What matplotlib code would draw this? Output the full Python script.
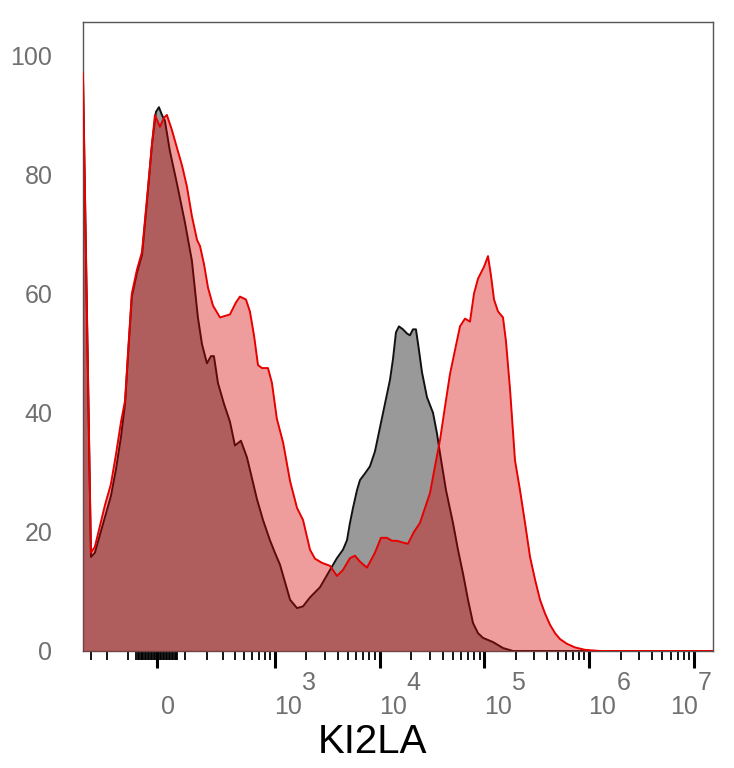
import numpy as np
import matplotlib.pyplot as plt

plt.rcParams['font.family'] = ['Liberation Sans', 'DejaVu Sans']

# histogram overlay, % of max, x in fluorescence units (biexponential display)
red_x = [-366, -302, -274, -241, -211, -179, -154, -131, -114, -102, -87, -68, -50, -33, -16.5,
         -6.6, 9.9, 23, 33, 50, 68, 87, 106, 127, 150, 164, 184, 206, 235, 281, 358, 412, 453,
         520, 569, 624, 683, 747, 854, 933, 1040, 1195, 1395, 1627, 1856, 2165, 2415, 2817,
         3360, 3919, 4470, 5213, 5820, 6500, 7575, 9030, 10300, 11760, 13130, 14650, 16720,
         18650, 21280, 24290, 27100, 30260, 33770, 37700, 42080, 46980, 52420, 58520, 65320,
         72900, 79600, 86900, 99200, 108300, 115700, 123600, 135000, 150500, 160700, 175600,
         196000, 218800, 244300, 272700, 304300, 339700, 379100, 423200, 472400, 527300,
         615000, 733000, 913000, 1270000, 15200000]
red_y = [97, 16.5, 17.5, 21, 24.5, 28, 33, 38.5, 42, 50, 60, 64, 67, 76, 85,
         90, 88, 89.5, 90, 87.5, 84.5, 81.5, 78, 73, 69, 68, 65, 61, 58, 56, 56.5, 58.5, 59.5,
         59, 57, 53, 48, 47.5, 47.5, 45, 39, 35, 28.5, 24, 22, 17, 15.5, 14.8,
         14.3, 12.6, 13.6, 15.6, 16, 15, 14, 16.5, 19, 19, 18.5, 18.5, 18.2,
         18, 20, 21.5, 24, 26.5, 31, 35.4, 41, 46.5, 50.5, 54.5, 55.8,
         55.3, 60, 62.5, 64.5, 66.3, 63, 59, 57, 56, 52, 44,
         32, 27, 21.5, 15.8, 12, 8.6, 6.3, 4.4, 3, 2,
         1.2, 0.6, 0.2, 0, 0]

gray_x = [-366, -302, -274, -241, -211, -179, -154, -131, -114, -102, -87, -68, -50, -33, -16.5,
          -3.3, 6.6, 16.5, 26.5, 43, 68, 98, 127, 154, 174, 200, 223, 241, 267, 310, 358, 403,
          463, 532, 596, 667, 764, 892, 997, 1115, 1250, 1395, 1627, 1856, 2165, 2696, 3360,
          3919, 4470, 4885, 5213, 5570, 6085, 6500, 7245, 8090, 9030, 10080, 11250, 12560,
          13420, 14330, 15310, 16720, 18260, 19500, 20810, 22230, 23760, 25380, 28330, 32340,
          35310, 37700, 43020, 50160, 56000, 62510, 69780, 77880, 86900, 97000, 120900,
          150500, 187600, 1270000, 15200000]
gray_y = [96, 15.8, 16.5, 19.5, 22.5, 26, 30.5, 36, 41.5, 49.5, 59.5, 63.5, 66.5, 75.5, 85,
          90.5, 91.3, 90, 89, 84, 78.5, 72, 65.5, 56, 51.5, 48.3, 49.5, 49.5, 45, 41.5, 38.5, 34.5,
          35.3, 32.5, 29, 25.5, 22, 18.6, 16.5, 14.5, 11.5, 8.6, 7.2, 7.5, 9, 10.7, 13.6,
          15.6, 17, 18.6, 21.5, 24, 27, 28.7, 29.8, 31, 33.5, 37.5, 41.5, 45.5,
          49, 53.5, 54.5, 54, 53.3, 53, 54, 54, 50.5, 46.8, 42.6, 40,
          36.5, 33.2, 27, 21.5, 17, 13, 8.6, 4.7, 3, 2.2, 1.5,
          0.5, 0, 0, 0]

major_ticks = [0, 1e3, 1e4, 1e5, 1e6, 1e7]
exponents = ['', '3', '4', '5', '6', '7']
y_ticks = [0, 20, 40, 60, 80, 100]

# minor ticks: linear part near zero, then log decades
minor_ticks = [-300, -200, -100] + [v for v in range(-70, 75, 5) if v != 0]
minor_ticks += list(range(100, 1000, 100))
for d in range(3, 7):
    minor_ticks += [k * 10 ** d for k in range(2, 10)]

W = 150.0
def fwd(x):
    return np.arcsinh(np.asarray(x, dtype=float) / W)
def inv(y):
    return W * np.sinh(np.asarray(y, dtype=float))

fig = plt.figure(figsize=(7.34, 7.68), dpi=100)
ax = fig.add_axes([83 / 734, 117 / 768, 630 / 734, 629 / 768])
ax.set_xscale('function', functions=(fwd, inv))

ax.fill_between(gray_x, 0, gray_y, color='#999999', lw=0, zorder=1)
ax.plot(gray_x, gray_y, color='#111111', lw=1.4, zorder=2)
ax.fill_between(red_x, 0, red_y, color='#d60000', alpha=0.39, lw=0, zorder=3)
ax.plot(red_x, red_y, color='#e60000', lw=1.4, zorder=4)

ax.set_xlim(-366, 1.52e7)
ax.set_ylim(0, 105.6)

ax.set_xticks(major_ticks)
ax.set_xticks(minor_ticks, minor=True)
ax.tick_params(axis='x', which='major', length=12, width=2.2, color='black',
               direction='out', labelbottom=False)
ax.tick_params(axis='x', which='minor', length=6.5, width=1.3, color='black', direction='out')

ax.set_yticks(y_ticks)
ax.tick_params(axis='y', length=0, pad=22, labelsize=18, labelcolor='#707070')

for sp in ax.spines.values():
    sp.set_color('#555555')
    sp.set_linewidth(1)

lab_color = '#707070'
for t, e in zip(major_ticks, exponents):
    if e == '':
        ax.annotate('0', xy=(t, 0), xycoords=('data', 'axes fraction'), xytext=(8, -40.5),
                    textcoords='offset points', ha='center', va='center',
                    fontsize=18, color=lab_color)
        continue
    # last label is pulled left so it stays inside the figure
    shift = -16.5 if t == major_ticks[-1] else 0
    ax.annotate('10', xy=(t, 0), xycoords=('data', 'axes fraction'), xytext=(9.5 + shift, -40.5),
                textcoords='offset points', ha='center', va='center',
                fontsize=18, color=lab_color)
    ax.annotate(e, xy=(t, 0), xycoords=('data', 'axes fraction'), xytext=(24.5 + shift, -23),
                textcoords='offset points', ha='center', va='center',
                fontsize=18, color=lab_color)

ax.set_xlabel('KI2LA', fontsize=29, color='black', va='center')
ax.xaxis.set_label_coords(0.459, -0.145)

fig.savefig('out.png', dpi=100)
